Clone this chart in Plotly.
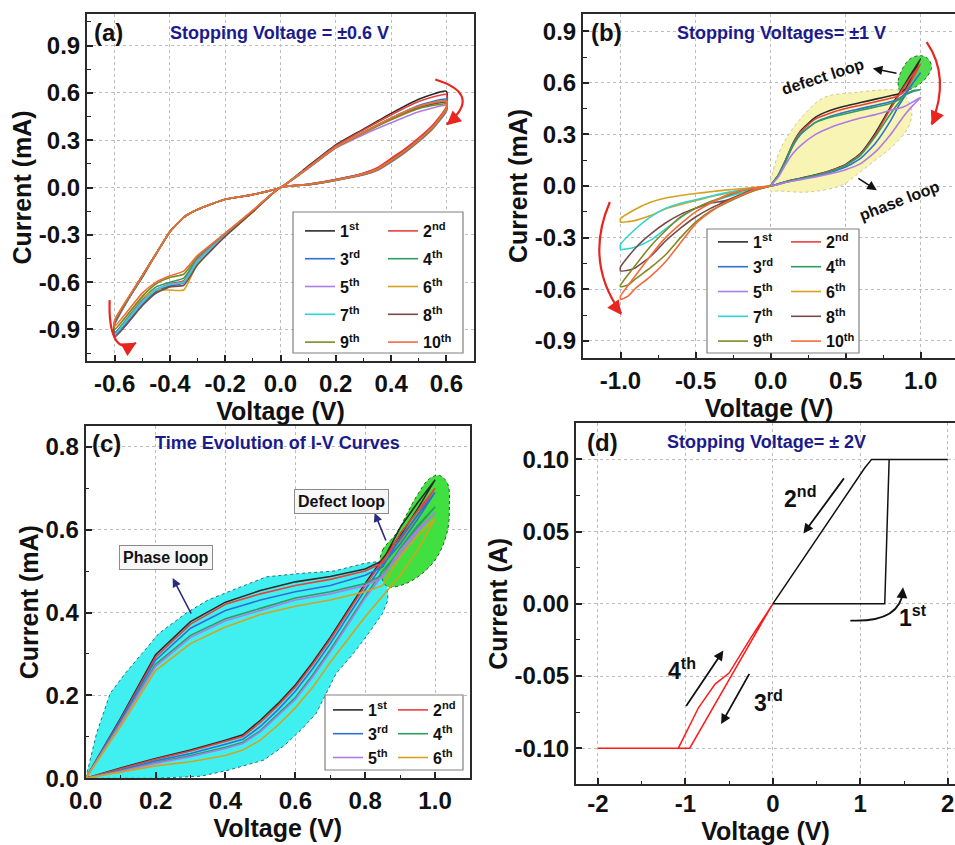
import plotly.graph_objects as go

W, H = 955, 845
FONT = "Liberation Sans, Arial, sans-serif"
NAVY = "#1b1b8c"

# ---------------- shared ----------------
CYCLE_NAMES = ["1<sup>st</sup>", "2<sup>nd</sup>", "3<sup>rd</sup>", "4<sup>th</sup>", "5<sup>th</sup>",
               "6<sup>th</sup>", "7<sup>th</sup>", "8<sup>th</sup>", "9<sup>th</sup>", "10<sup>th</sup>"]
CYCLE_COLORS = ["#2b2b2b", "#e8413b", "#2f6fd6", "#2e9d64", "#ad7ce6",
                "#d6a21e", "#2fd4d4", "#7a4a4a", "#7d8a22", "#f36b3b"]

# ---------------- panel (a): stopping voltage +-0.6 V ----------------
VOLT_A = [0, 0.1, 0.2, 0.3, 0.35, 0.4, 0.45, 0.5, 0.55, 0.6,
          0.6, 0.5, 0.4, 0.3, 0.2, 0.1, 0,
          -0.1, -0.2, -0.3, -0.35, -0.4, -0.45, -0.5, -0.6,
          -0.6, -0.5, -0.45, -0.4, -0.35, -0.3, -0.2, -0.1, 0]
A1 = [0, 0.02, 0.05, 0.09, 0.12, 0.18, 0.24, 0.31, 0.39, 0.50,
      0.61, 0.56, 0.47, 0.37, 0.27, 0.135, 0,
      -0.045, -0.075, -0.14, -0.19, -0.28, -0.42, -0.57, -0.85,
      -0.92, -0.73, -0.66, -0.62, -0.60, -0.46, -0.30, -0.15, 0]
A2 = [0, 0.02, 0.05, 0.09, 0.125, 0.185, 0.245, 0.315, 0.395, 0.51,
      0.59, 0.545, 0.46, 0.365, 0.265, 0.13, 0,
      -0.045, -0.075, -0.14, -0.19, -0.28, -0.42, -0.56, -0.86,
      -0.93, -0.72, -0.65, -0.61, -0.59, -0.46, -0.30, -0.15, 0]
A3 = [0, 0.018, 0.048, 0.085, 0.115, 0.17, 0.23, 0.30, 0.38, 0.50,
      0.56, 0.52, 0.44, 0.35, 0.255, 0.125, 0,
      -0.045, -0.075, -0.14, -0.19, -0.28, -0.42, -0.56, -0.87,
      -0.94, -0.74, -0.665, -0.625, -0.605, -0.465, -0.30, -0.15, 0]
A4 = [0, 0.018, 0.047, 0.083, 0.112, 0.165, 0.225, 0.295, 0.375, 0.49,
      0.55, 0.515, 0.44, 0.35, 0.255, 0.125, 0,
      -0.045, -0.075, -0.14, -0.19, -0.28, -0.42, -0.56, -0.86,
      -0.92, -0.71, -0.63, -0.60, -0.575, -0.45, -0.295, -0.148, 0]
A5 = [0, 0.017, 0.045, 0.08, 0.108, 0.16, 0.22, 0.29, 0.37, 0.48,
      0.52, 0.48, 0.41, 0.335, 0.25, 0.12, 0,
      -0.045, -0.075, -0.14, -0.19, -0.28, -0.42, -0.56, -0.86,
      -0.93, -0.72, -0.645, -0.615, -0.60, -0.46, -0.30, -0.15, 0]
A6 = [0, 0.018, 0.047, 0.084, 0.114, 0.168, 0.228, 0.298, 0.378, 0.50,
      0.55, 0.51, 0.44, 0.35, 0.255, 0.125, 0,
      -0.045, -0.075, -0.14, -0.19, -0.28, -0.42, -0.56, -0.86,
      -0.90, -0.70, -0.65, -0.65, -0.65, -0.48, -0.31, -0.155, 0]
A7 = [0, 0.018, 0.047, 0.084, 0.113, 0.167, 0.227, 0.297, 0.377, 0.49,
      0.55, 0.515, 0.44, 0.35, 0.255, 0.125, 0,
      -0.045, -0.075, -0.14, -0.19, -0.28, -0.42, -0.56, -0.86,
      -0.93, -0.73, -0.65, -0.615, -0.60, -0.47, -0.305, -0.15, 0]
A8 = [0, 0.018, 0.047, 0.083, 0.112, 0.166, 0.226, 0.296, 0.376, 0.49,
      0.54, 0.505, 0.435, 0.348, 0.254, 0.125, 0,
      -0.045, -0.075, -0.14, -0.19, -0.28, -0.42, -0.56, -0.86,
      -0.95, -0.75, -0.67, -0.63, -0.62, -0.49, -0.31, -0.155, 0]
A9 = [0, 0.018, 0.047, 0.083, 0.112, 0.166, 0.226, 0.296, 0.376, 0.49,
      0.53, 0.50, 0.43, 0.345, 0.253, 0.124, 0,
      -0.045, -0.075, -0.14, -0.19, -0.28, -0.42, -0.56, -0.85,
      -0.90, -0.69, -0.61, -0.57, -0.55, -0.44, -0.29, -0.145, 0]
A10 = [0, 0.019, 0.048, 0.086, 0.116, 0.172, 0.232, 0.302, 0.382, 0.50,
       0.55, 0.515, 0.44, 0.35, 0.255, 0.125, 0,
       -0.045, -0.075, -0.14, -0.19, -0.28, -0.42, -0.56, -0.84,
       -0.88, -0.67, -0.60, -0.56, -0.53, -0.43, -0.29, -0.145, 0]

A_XTICKS = [-0.6, -0.4, -0.2, 0.0, 0.2, 0.4, 0.6]
A_XLABELS = ["-0.6", "-0.4", "-0.2", "0.0", "0.2", "0.4", "0.6"]
A_YTICKS = [-0.9, -0.6, -0.3, 0.0, 0.3, 0.6, 0.9]
A_YLABELS = ["-0.9", "-0.6", "-0.3", "0.0", "0.3", "0.6", "0.9"]

# ---------------- panel (b): stopping voltages +-1 V ----------------
VOLT_B_POS = [0, 0.1, 0.2, 0.3, 0.4, 0.5, 0.6, 0.7, 0.8, 0.85, 0.9, 0.95, 1.0,
              0.95, 0.9, 0.85, 0.8, 0.7, 0.6, 0.5, 0.4, 0.3, 0.2, 0.15, 0.1, 0.05, 0]
B1 = [0, 0.025, 0.045, 0.065, 0.09, 0.125, 0.19, 0.31, 0.46, 0.53, 0.60, 0.67, 0.74,
      0.65, 0.565, 0.535, 0.525, 0.505, 0.485, 0.465, 0.44, 0.40, 0.32, 0.25, 0.15, 0.06, 0]
B2 = [0, 0.024, 0.044, 0.063, 0.088, 0.122, 0.185, 0.30, 0.45, 0.52, 0.59, 0.65, 0.71,
      0.63, 0.555, 0.525, 0.51, 0.49, 0.47, 0.45, 0.425, 0.39, 0.315, 0.245, 0.148, 0.06, 0]
B3 = [0, 0.022, 0.04, 0.058, 0.08, 0.11, 0.16, 0.25, 0.38, 0.46, 0.53, 0.60, 0.66,
      0.60, 0.54, 0.505, 0.49, 0.47, 0.45, 0.43, 0.405, 0.37, 0.30, 0.235, 0.143, 0.058, 0]
B4 = [0, 0.024, 0.043, 0.062, 0.086, 0.12, 0.18, 0.29, 0.42, 0.48, 0.53, 0.555, 0.56,
      0.55, 0.53, 0.50, 0.48, 0.46, 0.44, 0.42, 0.40, 0.37, 0.305, 0.24, 0.145, 0.058, 0]
B5 = [0, 0.02, 0.037, 0.053, 0.072, 0.095, 0.13, 0.2, 0.3, 0.36, 0.42, 0.47, 0.515,
      0.49, 0.465, 0.45, 0.44, 0.415, 0.395, 0.37, 0.34, 0.30, 0.235, 0.19, 0.125, 0.05, 0]
VOLT_B_NEG = [0, -0.1, -0.2, -0.3, -0.4, -0.5, -0.6, -0.7, -0.8, -0.9, -1.0,
              -1.0, -0.95, -0.9, -0.8, -0.7, -0.6, -0.5, -0.4, -0.3, -0.2, -0.1, 0]
B6 = [0, -0.008, -0.016, -0.024, -0.033, -0.044, -0.055, -0.07, -0.095, -0.135, -0.19,
      -0.21, -0.207, -0.20, -0.172, -0.132, -0.108, -0.085, -0.062, -0.043, -0.025, -0.01, 0]
B7 = [0, -0.012, -0.025, -0.04, -0.06, -0.08, -0.10, -0.13, -0.18, -0.25, -0.34,
      -0.368, -0.365, -0.355, -0.315, -0.25, -0.185, -0.13, -0.095, -0.065, -0.04, -0.018, 0]
B8 = [0, -0.015, -0.05, -0.085, -0.10, -0.13, -0.165, -0.215, -0.28, -0.36, -0.47,
      -0.493, -0.49, -0.475, -0.41, -0.32, -0.245, -0.18, -0.13, -0.09, -0.055, -0.022, 0]
B9 = [0, -0.012, -0.03, -0.06, -0.09, -0.13, -0.18, -0.26, -0.35, -0.46, -0.575,
      -0.586, -0.575, -0.54, -0.475, -0.40, -0.30, -0.21, -0.145, -0.10, -0.06, -0.025, 0]
B10 = [0, -0.01, -0.028, -0.055, -0.10, -0.15, -0.22, -0.30, -0.405, -0.52, -0.64,
       -0.66, -0.64, -0.595, -0.525, -0.44, -0.33, -0.22, -0.15, -0.095, -0.055, -0.02, 0]
PHASE_B_V = [0.0, 0.02, 0.096, 0.25, 0.36, 0.58, 0.807, 0.87, 0.94, 0.918, 0.807, 0.696, 0.584, 0.473, 0.25, 0.051, 0.0]
PHASE_B_I = [-0.03, 0.1, 0.265, 0.44, 0.516, 0.545, 0.56, 0.55, 0.44, 0.342, 0.226, 0.149, 0.072, 0.004, -0.035, -0.029, -0.03]
DEFECT_B_V = [0.862, 0.851, 0.884, 0.929, 0.996, 1.051, 1.073, 1.04, 0.996, 0.94, 0.862]
DEFECT_B_I = [0.555, 0.613, 0.69, 0.739, 0.758, 0.739, 0.69, 0.632, 0.594, 0.565, 0.555]

B_XTICKS = [-1.0, -0.5, 0.0, 0.5, 1.0]
B_XLABELS = ["-1.0", "-0.5", "0.0", "0.5", "1.0"]

# ---------------- panel (c): time evolution ----------------
VOLT_C = [0, 0.1, 0.2, 0.3, 0.4, 0.45, 0.5, 0.55, 0.6, 0.65, 0.7, 0.75, 0.8, 0.85, 0.9, 0.95, 1.0,
          0.95, 0.9, 0.85, 0.8, 0.7, 0.6, 0.5, 0.4, 0.3, 0.2, 0.1, 0]
C1 = [0, 0.025, 0.048, 0.068, 0.092, 0.105, 0.14, 0.18, 0.225, 0.28, 0.34, 0.405, 0.47, 0.53, 0.585, 0.65, 0.72,
      0.665, 0.605, 0.525, 0.505, 0.487, 0.474, 0.453, 0.425, 0.378, 0.298, 0.145, 0]
C2 = [0, 0.023, 0.046, 0.066, 0.089, 0.101, 0.135, 0.175, 0.22, 0.275, 0.335, 0.40, 0.465, 0.525, 0.575, 0.635, 0.70,
      0.645, 0.59, 0.52, 0.50, 0.48, 0.465, 0.445, 0.42, 0.372, 0.292, 0.142, 0]
C3 = [0, 0.02, 0.042, 0.06, 0.082, 0.094, 0.125, 0.165, 0.21, 0.265, 0.325, 0.39, 0.455, 0.515, 0.565, 0.625, 0.69,
      0.635, 0.58, 0.51, 0.49, 0.465, 0.45, 0.43, 0.405, 0.362, 0.285, 0.14, 0]
C4 = [0, 0.018, 0.038, 0.055, 0.075, 0.087, 0.115, 0.155, 0.195, 0.25, 0.31, 0.375, 0.44, 0.50, 0.55, 0.605, 0.655,
      0.61, 0.555, 0.49, 0.47, 0.45, 0.435, 0.41, 0.385, 0.345, 0.275, 0.135, 0]
C5 = [0, 0.017, 0.036, 0.052, 0.072, 0.084, 0.112, 0.15, 0.19, 0.245, 0.305, 0.37, 0.435, 0.49, 0.54, 0.595, 0.64,
      0.60, 0.55, 0.485, 0.465, 0.445, 0.43, 0.405, 0.38, 0.34, 0.27, 0.132, 0]
C6 = [0, 0.015, 0.03, 0.04, 0.055, 0.068, 0.092, 0.128, 0.17, 0.22, 0.28, 0.335, 0.39, 0.44, 0.49, 0.55, 0.627,
      0.585, 0.535, 0.465, 0.45, 0.43, 0.415, 0.395, 0.365, 0.325, 0.26, 0.125, 0]
PHASE_C_V = [0.0, 0.031, 0.07, 0.115, 0.16, 0.21, 0.29, 0.35, 0.42, 0.517, 0.61, 0.71, 0.80, 0.84, 0.862,
             0.865, 0.85, 0.803, 0.765, 0.717, 0.66, 0.62, 0.57, 0.51, 0.41, 0.33, 0.2, 0.0]
PHASE_C_I = [0.0, 0.108, 0.205, 0.255, 0.30, 0.35, 0.40, 0.43, 0.454, 0.486, 0.494, 0.50, 0.519, 0.523, 0.49,
             0.43, 0.398, 0.342, 0.30, 0.253, 0.157, 0.12, 0.08, 0.044, 0.02, 0.005, 0.0, 0.0]
DEFECT_C_V = [0.841, 0.85, 0.889, 0.946, 0.984, 1.012, 1.036, 1.041, 1.036, 1.012, 0.974, 0.917, 0.865, 0.85, 0.841]
DEFECT_C_I = [0.51, 0.551, 0.591, 0.679, 0.723, 0.731, 0.711, 0.655, 0.599, 0.543, 0.502, 0.47, 0.462, 0.478, 0.51]

C_XTICKS = [0.0, 0.2, 0.4, 0.6, 0.8, 1.0]
C_XLABELS = ["0.0", "0.2", "0.4", "0.6", "0.8", "1.0"]
C_YTICKS = [0.0, 0.2, 0.4, 0.6, 0.8]
C_YLABELS = ["0.0", "0.2", "0.4", "0.6", "0.8"]

# ---------------- panel (d): stopping voltage +-2 V ----------------
VOLT_D_BLACK = [0, 1.28, 1.33, 2.0, 1.13, 1.05, 0.5, 0]
CURR_D_BLACK = [0, 0, 0.1, 0.1, 0.1, 0.094, 0.045, 0]
VOLT_D_RED = [0, -0.95, -2.0, -1.08, -0.85, -0.66, -0.5, -0.25, 0]
CURR_D_RED = [0, -0.1, -0.1, -0.1, -0.072, -0.0556, -0.048, -0.0235, 0]

D_XTICKS = [-2, -1, 0, 1, 2]
D_XLABELS = ["-2", "-1", "0", "1", "2"]
D_YTICKS = [-0.10, -0.05, 0.0, 0.05, 0.10]
D_YLABELS = ["-0.10", "-0.05", "0.00", "0.05", "0.10"]


# ======================================================================
def pxx(p):
    return p / W


def pxy(p):
    return 1 - p / H


fig = go.Figure()

# background blobs
fig.add_trace(go.Scatter(x=PHASE_B_V, y=PHASE_B_I, xaxis="x2", yaxis="y2", mode="lines", fill="toself",
                         fillcolor="#f8f4b4", line=dict(color="#cfc89a", width=1, dash="dot", shape="spline"),
                         showlegend=False, hoverinfo="skip"))
fig.add_trace(go.Scatter(x=DEFECT_B_V, y=DEFECT_B_I, xaxis="x2", yaxis="y2", mode="lines", fill="toself",
                         fillcolor="#4fdc4f", line=dict(color="#2f6a2f", width=1, dash="dot", shape="spline"),
                         showlegend=False, hoverinfo="skip"))
fig.add_trace(go.Scatter(x=PHASE_C_V, y=PHASE_C_I, xaxis="x3", yaxis="y3", mode="lines", fill="toself",
                         fillcolor="#40f0f0", line=dict(color="#2a6f73", width=1, dash="dot"),
                         showlegend=False, hoverinfo="skip"))
fig.add_trace(go.Scatter(x=DEFECT_C_V, y=DEFECT_C_I, xaxis="x3", yaxis="y3", mode="lines", fill="toself",
                         fillcolor="#3fe03f", line=dict(color="#2a5a2a", width=1, dash="dot", shape="spline"),
                         showlegend=False, hoverinfo="skip"))

# panel (a)
for i, cur in enumerate([A1, A2, A3, A4, A5, A6, A7, A8, A9, A10]):
    fig.add_trace(go.Scatter(x=VOLT_A, y=cur, xaxis="x", yaxis="y", mode="lines",
                             line=dict(color=CYCLE_COLORS[i], width=1.6, shape="spline", smoothing=0.5),
                             name=CYCLE_NAMES[i],
                             legend="legend" if i % 2 == 0 else "legend2", legendgroup=f"a{i}"))
# panel (b)
for i, cur in enumerate([B1, B2, B3, B4, B5, B6, B7, B8, B9, B10]):
    vx = VOLT_B_POS if i < 5 else VOLT_B_NEG
    fig.add_trace(go.Scatter(x=vx, y=cur, xaxis="x2", yaxis="y2", mode="lines",
                             line=dict(color=CYCLE_COLORS[i], width=1.6, shape="spline", smoothing=0.5),
                             name=CYCLE_NAMES[i],
                             legend="legend3" if i % 2 == 0 else "legend4", legendgroup=f"b{i}"))
# panel (c)
for i, cur in enumerate([C1, C2, C3, C4, C5, C6]):
    fig.add_trace(go.Scatter(x=VOLT_C, y=cur, xaxis="x3", yaxis="y3", mode="lines",
                             line=dict(color=CYCLE_COLORS[i], width=1.6), name=CYCLE_NAMES[i],
                             legend="legend5" if i % 2 == 0 else "legend6", legendgroup=f"c{i}"))
# panel (d)
fig.add_trace(go.Scatter(x=VOLT_D_BLACK, y=CURR_D_BLACK, xaxis="x4", yaxis="y4", mode="lines",
                         line=dict(color="#111111", width=1.5), showlegend=False))
fig.add_trace(go.Scatter(x=VOLT_D_RED, y=CURR_D_RED, xaxis="x4", yaxis="y4", mode="lines",
                         line=dict(color="#ff1a1a", width=1.5), showlegend=False))


def make_axis(domain, rng, tickvals, ticktext, minor_dtick, anchor, title, standoff, lstandoff):
    return dict(domain=domain, range=rng, anchor=anchor, autorange=False,
                tickmode="array", tickvals=tickvals, ticktext=ticktext,
                ticks="inside", ticklen=6, tickwidth=1.5, tickcolor="#222",
                minor=dict(ticks="inside", ticklen=3.5, tickwidth=1.2, tickcolor="#222",
                           tickmode="linear", tick0=0, dtick=minor_dtick, showgrid=False),
                showline=True, linecolor="#2a2a2a", linewidth=2, mirror=True,
                showgrid=True, gridcolor="#bdbdbd", gridwidth=1, griddash="dot", zeroline=False,
                tickfont=dict(family=FONT, size=24, color="#111", weight="bold"),
                ticklabelstandoff=lstandoff,
                title=dict(text=title, font=dict(family=FONT, size=25, color="#111", weight="bold"),
                           standoff=standoff),
                automargin=False)


XA = [pxx(87), pxx(474)]
YA = [pxy(361), pxy(14)]
XB = [pxx(583), 1.0]
YB = [pxy(358), pxy(14)]
XC = [pxx(85.7), pxx(470)]
YC = [pxy(778.3), pxy(426)]
XD = [pxx(576), 1.0]
YD = [pxy(784.3), pxy(423.3)]

layout = dict(
    width=W, height=H, margin=dict(l=0, r=0, t=0, b=0),
    paper_bgcolor="white", plot_bgcolor="white",
    font=dict(family=FONT, color="#111"),
    xaxis=make_axis(XA, [-0.7, 0.7], A_XTICKS, A_XLABELS, 0.1, "y", "Voltage (V)", 1, 0),
    yaxis=make_axis(YA, [-1.1, 1.1], A_YTICKS, A_YLABELS, 0.15, "x", "Current (mA)", 0, 0),
    xaxis2=make_axis(XB, [-1.25, 1.229], B_XTICKS, B_XLABELS, 0.25, "y2", "Voltage (V)", 2, 0),
    yaxis2=make_axis(YB, [-1.0, 1.0], A_YTICKS, A_YLABELS, 0.15, "x2", "Current (mA)", 0, 0),
    xaxis3=make_axis(XC, [0, 1.1], C_XTICKS, C_XLABELS, 0.1, "y3", "Voltage (V)", 4, 0),
    yaxis3=make_axis(YC, [0, 0.85], C_YTICKS, C_YLABELS, 0.1, "x3", "Current (mA)", 0, 0),
    xaxis4=make_axis(XD, [-2.25, 2.083], D_XTICKS, D_XLABELS, 0.5, "y4", "Voltage (V)", 4, -3),
    yaxis4=make_axis(YD, [-0.125, 0.125], D_YTICKS, D_YLABELS, 0.025, "x4", "Current (A)", 0, 0),
)


def legend_cfg(lx, ty, gap):
    return dict(x=pxx(lx), y=pxy(ty), xanchor="left", yanchor="top", orientation="v",
                bgcolor="rgba(0,0,0,0)", borderwidth=0, tracegroupgap=gap,
                font=dict(family=FONT, size=16, color="#111", weight="bold"))


layout["legend"] = legend_cfg(300, 214, 4)
layout["legend2"] = legend_cfg(383, 214, 4)
layout["legend3"] = legend_cfg(713, 225, 1)
layout["legend4"] = legend_cfg(786, 225, 1)
layout["legend5"] = legend_cfg(328, 693, 0)
layout["legend6"] = legend_cfg(393, 693, 0)
layout["showlegend"] = True

shapes = []
# legend boxes
for (x0, y0, x1, y1) in [(293, 212, 463, 353), (707, 229, 859, 353), (325, 695, 463, 770)]:
    shapes.append(dict(type="rect", xref="paper", yref="paper", x0=pxx(x0), x1=pxx(x1), y0=pxy(y1), y1=pxy(y0),
                       line=dict(color="#808080", width=1.2), fillcolor="white", layer="above"))

RED = "#e8251f"


def curve_path(xr, yr, pts, color, width=2.2):
    (x0, y0), (cx, cy), (x1, y1) = pts
    return dict(type="path", xref=xr, yref=yr, path=f"M {x0},{y0} Q {cx},{cy} {x1},{y1}",
                line=dict(color=color, width=width), layer="above")


def cubic_path(xr, yr, pts, color, width=2.2):
    (x0, y0), (c1x, c1y), (c2x, c2y), (x1, y1) = pts
    return dict(type="path", xref=xr, yref=yr,
                path=f"M {x0},{y0} C {c1x},{c1y} {c2x},{c2y} {x1},{y1}",
                line=dict(color=color, width=width), layer="above")


shapes.append(curve_path("x", "y", [(0.56, 0.685), (0.735, 0.59), (0.601, 0.40)], RED))
shapes.append(cubic_path("x", "y", [(-0.618, -0.714), (-0.622, -0.903), (-0.60, -1.061), (-0.523, -0.985)], RED))
shapes.append(curve_path("x2", "y2", [(1.04, 0.836), (1.20, 0.633), (1.073, 0.36)], RED))
shapes.append(curve_path("x2", "y2", [(-1.071, -0.093), (-1.243, -0.441), (-0.995, -0.74)], RED))
shapes.append(curve_path("x4", "y4", [(0.886, -0.0116), (1.455, -0.013), (1.489, 0.009)], "#111", 1.8))
layout["shapes"] = shapes

ann = []


def head(xr, yr, x, y, ax, ay, color, size=1.3, width=2.2):
    return dict(xref=xr, yref=yr, x=x, y=y, ax=ax, ay=ay, axref="pixel", ayref="pixel", text="",
                showarrow=True, arrowhead=2, arrowsize=size, arrowwidth=width, arrowcolor=color)


def straight(xr, yr, tail, tip, color, width=1.6, size=1.2):
    return dict(xref=xr, yref=yr, x=tip[0], y=tip[1], ax=tail[0], ay=tail[1], axref=xr, ayref=yr,
                text="", showarrow=True, arrowhead=2, arrowsize=size, arrowwidth=width, arrowcolor=color)


ann.append(head("x", "y", 0.601, 0.394, 8, -7, RED))
ann.append(head("x", "y", -0.521, -0.985, -9, 5, RED))
ann.append(head("x2", "y2", 1.073, 0.352, 4, -9, RED))
ann.append(head("x2", "y2", -0.993, -0.75, -6, -8, RED))
ann.append(head("x4", "y4", 1.489, 0.0115, -1, 10, "#111", 1.2, 1.8))

# (b) loop labels
ann.append(straight("x2", "y2", (0.849, 0.654), (0.681, 0.683), "#111"))
ann.append(straight("x2", "y2", (0.575, 0.05), (0.708, -0.025), "#111"))
ann.append(dict(xref="x2", yref="y2", x=0.351, y=0.637, text="defect loop", showarrow=False, textangle=-18,
                xanchor="center", yanchor="middle",
                font=dict(family=FONT, size=16, color="#111", weight="bold")))
ann.append(dict(xref="x2", yref="y2", x=0.862, y=-0.083, text="phase loop", showarrow=False, textangle=-21,
                xanchor="center", yanchor="middle",
                font=dict(family=FONT, size=16, color="#111", weight="bold")))

# (c) boxed labels
ann.append(straight("x3", "y3", (0.304, 0.394), (0.249, 0.483), "#2a2a80", 1.6, 1.1))
ann.append(straight("x3", "y3", (0.861, 0.570), (0.827, 0.640), "#2a2a80", 1.6, 1.1))
ann.append(dict(xref="x3", yref="y3", x=0.231, y=0.532, text="Phase loop", showarrow=False,
                xanchor="center", yanchor="middle",
                bordercolor="#8a8a8a", borderwidth=1, borderpad=3, bgcolor="#f7f7f7",
                font=dict(family=FONT, size=16, color="#111", weight="bold")))
ann.append(dict(xref="x3", yref="y3", x=0.732, y=0.669, text="Defect loop", showarrow=False,
                xanchor="center", yanchor="middle",
                bordercolor="#8a8a8a", borderwidth=1, borderpad=3, bgcolor="#f7f7f7",
                font=dict(family=FONT, size=16, color="#111", weight="bold")))

# (d) sweep labels
ann.append(straight("x4", "y4", (0.826, 0.0879), (0.35, 0.0486), "#111", 1.8, 1.1))
ann.append(straight("x4", "y4", (-1.002, -0.0718), (-0.565, -0.0324), "#111", 1.8, 1.1))
ann.append(straight("x4", "y4", (-0.259, -0.0475), (-0.591, -0.0833), "#111", 1.8, 1.1))
for (tx, ty, txt) in [(0.313, 0.0738, "2<sup>nd</sup>"), (1.603, -0.0083, "1<sup>st</sup>"),
                      (-1.035, -0.0449, "4<sup>th</sup>"), (-0.053, -0.0673, "3<sup>rd</sup>")]:
    ann.append(dict(xref="x4", yref="y4", x=tx, y=ty, text=txt, showarrow=False,
                    xanchor="center", yanchor="middle",
                    font=dict(family=FONT, size=23, color="#111", weight="bold")))

# panel letters and titles
for (cx, cy, txt) in [(108, 33, "(a)"), (606, 33, "(b)"), (106, 443, "(c)"), (602, 442, "(d)")]:
    ann.append(dict(xref="paper", yref="paper", x=pxx(cx), y=pxy(cy), text=txt, showarrow=False,
                    xanchor="center", yanchor="middle",
                    font=dict(family=FONT, size=24, color="#111", weight="bold")))
for (cx, cy, txt) in [(279, 33, "Stopping Voltage = ±0.6 V"), (781, 33, "Stopping Voltages= ±1 V"),
                      (277, 443, "Time Evolution of I-V Curves"), (766, 442, "Stopping Voltage= ± 2V")]:
    ann.append(dict(xref="paper", yref="paper", x=pxx(cx), y=pxy(cy), text=txt, showarrow=False,
                    xanchor="center", yanchor="middle",
                    font=dict(family=FONT, size=18, color=NAVY, weight="bold")))

layout["annotations"] = ann
fig.update_layout(**layout)
fig.write_html("out.html", config={"displayModeBar": False},
               post_script="document.body.style.margin='0px';")
